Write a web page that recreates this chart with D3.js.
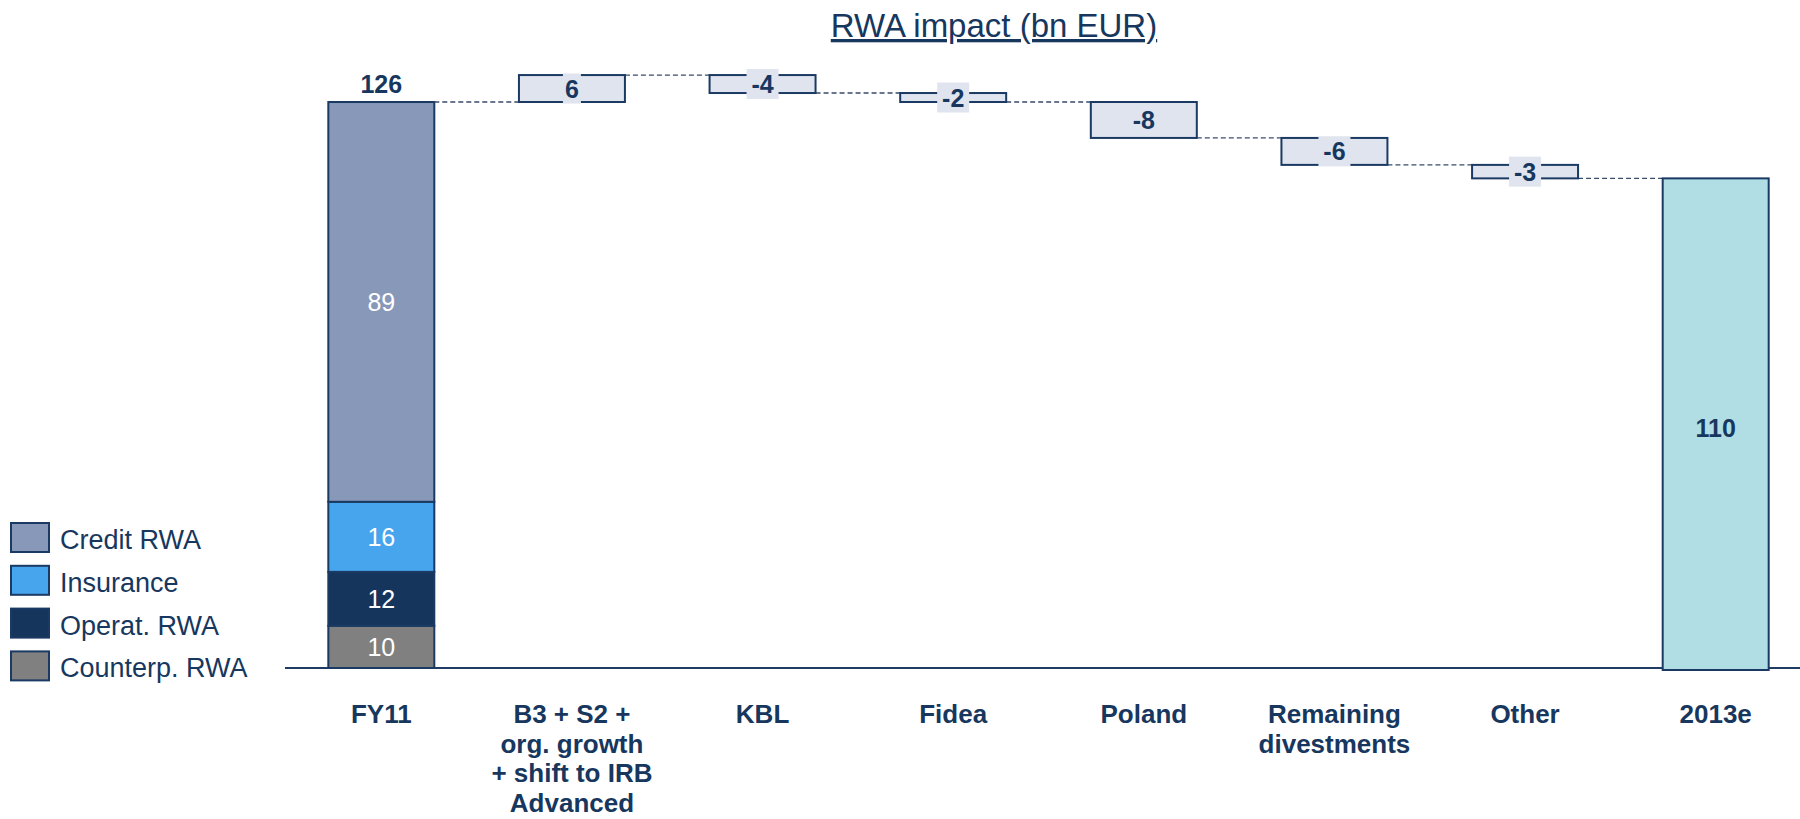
<!DOCTYPE html>
<html>
<head>
<meta charset="utf-8">
<script src="https://cdn.jsdelivr.net/npm/d3@7"></script>
<style>
  html, body { margin: 0; padding: 0; background: #fff; }
  svg { display: block; font-family: "Liberation Sans", Arial, sans-serif; }
</style>
</head>
<body>
<svg id="chart" width="1800" height="819"></svg>
<script>
// ---------- data ----------
const categories = ["FY11", "B3 + S2 + org. growth + shift to IRB Advanced", "KBL", "Fidea", "Poland", "Remaining divestments", "Other", "2013e"];
const categoryLines = [["FY11"], ["B3 + S2 +", "org. growth", "+ shift to IRB", "Advanced"], ["KBL"], ["Fidea"], ["Poland"], ["Remaining", "divestments"], ["Other"], ["2013e"]];
const segmentNames = ["Counterp. RWA", "Operat. RWA", "Insurance", "Credit RWA"];
const segmentValues = [9.4, 12.0, 15.6, 89.0];
const segmentLabels = ["10", "12", "16", "89"];
const startLabel = "126";
const deltaValues = [6, -4, -2, -8, -6, -3];
const deltaLabels = ["6", "-4", "-2", "-8", "-6", "-3"];
const endLabel = "110";
const legendOrder = ["Credit RWA", "Insurance", "Operat. RWA", "Counterp. RWA"];
const titleText = "RWA impact (bn EUR)";

// ---------- styles ----------
const navy = "#17375e";
const segColors = {"Credit RWA": "#8898b8", "Insurance": "#46a5ec", "Operat. RWA": "#15355c", "Counterp. RWA": "#808080"};
const deltaFill = "#dfe4ee";
const endFill = "#b0dee4";

const svg = d3.select("#chart");

const x = d3.scaleBand().domain(categories).range([286, 1811]).paddingInner(0.444).paddingOuter(0.222);
const y = d3.scaleLinear().domain([0, 140]).range([668, 668 - 140 * 4.492]);
const bw = x.bandwidth();

// title
svg.append("text").attr("x", 994).attr("y", 37).attr("text-anchor", "middle")
  .attr("font-size", 33).attr("fill", navy).attr("text-decoration", "underline").text(titleText);

// baseline
svg.append("line").attr("x1", 285).attr("x2", 1800).attr("y1", y(0)).attr("y2", y(0))
  .attr("stroke", "#1f3c64").attr("stroke-width", 2);

// stacked start bar
let cum = 0;
const stack = segmentValues.map((v, i) => { const s = {name: segmentNames[i], y0: cum, y1: cum + v, label: segmentLabels[i]}; cum += v; return s; });
const startTotal = cum;
const g0 = svg.append("g");
g0.selectAll("rect").data(stack).enter().append("rect")
  .attr("x", x(categories[0])).attr("width", bw)
  .attr("y", d => y(d.y1)).attr("height", d => y(d.y0) - y(d.y1))
  .attr("fill", d => segColors[d.name]).attr("stroke", "#1b3a63").attr("stroke-width", 2);
g0.selectAll("text").data(stack).enter().append("text")
  .attr("x", x(categories[0]) + bw / 2).attr("y", d => (y(d.y0) + y(d.y1)) / 2 + 9)
  .attr("text-anchor", "middle").attr("fill", "#fff").attr("font-size", 25).text(d => d.label);
svg.append("text").attr("x", x(categories[0]) + bw / 2).attr("y", y(startTotal) - 9)
  .attr("text-anchor", "middle").attr("fill", navy).attr("font-size", 25).attr("font-weight", "bold").text(startLabel);

// deltas
let run = startTotal;
const steps = deltaValues.map((v, i) => { const s = {cat: categories[i + 1], from: run, to: run + v, label: deltaLabels[i]}; run += v; return s; });
const endTotal = run;

// connectors
const connectors = [];
connectors.push({x1: x(categories[0]) + bw, x2: x(categories[1]), v: startTotal});
steps.forEach((s, i) => connectors.push({x1: x(s.cat) + bw, x2: x(categories[i + 2]), v: s.to}));
svg.append("g").selectAll("line").data(connectors).enter().append("line")
  .attr("x1", d => d.x1).attr("x2", d => d.x2).attr("y1", d => y(d.v)).attr("y2", d => y(d.v))
  .attr("stroke", "#3b4b69").attr("stroke-width", 1.3).attr("stroke-dasharray", "5,3");

const gd = svg.append("g");
steps.forEach(s => {
  const top = y(Math.max(s.from, s.to)), bot = y(Math.min(s.from, s.to));
  gd.append("rect").attr("x", x(s.cat)).attr("width", bw).attr("y", top).attr("height", bot - top)
    .attr("fill", deltaFill).attr("stroke", "#1b3a63").attr("stroke-width", 2);
  const cy = (top + bot) / 2;
  if (bot - top < 28) {
    const tw = s.label.length * 14 + 4;
    gd.append("rect").attr("x", x(s.cat) + bw / 2 - tw / 2).attr("width", tw)
      .attr("y", cy - 15).attr("height", 30).attr("fill", deltaFill);
  }
  gd.append("text").attr("x", x(s.cat) + bw / 2).attr("y", cy + 9).attr("text-anchor", "middle")
    .attr("fill", navy).attr("font-size", 25).attr("font-weight", "bold").text(s.label);
});

// end bar
const lastCat = categories[categories.length - 1];
svg.append("rect").attr("x", x(lastCat)).attr("width", bw).attr("y", y(endTotal)).attr("height", y(0) - y(endTotal) + 2)
  .attr("fill", endFill).attr("stroke", "#1b3a63").attr("stroke-width", 2);
svg.append("text").attr("x", x(lastCat) + bw / 2).attr("y", (y(endTotal) + y(0)) / 2 + 14)
  .attr("text-anchor", "middle").attr("fill", navy).attr("font-size", 25).attr("font-weight", "bold").text(endLabel);

// category labels
const gl = svg.append("g");
categories.forEach((c, i) => {
  const t = gl.append("text").attr("x", x(c) + bw / 2).attr("y", 723).attr("text-anchor", "middle")
    .attr("fill", navy).attr("font-size", 26).attr("font-weight", "bold");
  categoryLines[i].forEach((ln, j) => {
    t.append("tspan").attr("x", x(c) + bw / 2).attr("dy", j === 0 ? 0 : 29.5).text(ln);
  });
});

// legend
const lg = svg.append("g");
legendOrder.forEach((n, i) => {
  const ly = 523 + i * 42.8;
  lg.append("rect").attr("x", 11).attr("y", ly).attr("width", 38).attr("height", 29)
    .attr("fill", segColors[n]).attr("stroke", "#1b3a63").attr("stroke-width", 2);
  lg.append("text").attr("x", 60).attr("y", ly + 26).attr("fill", navy).attr("font-size", 27).text(n);
});
</script>
</body>
</html>
